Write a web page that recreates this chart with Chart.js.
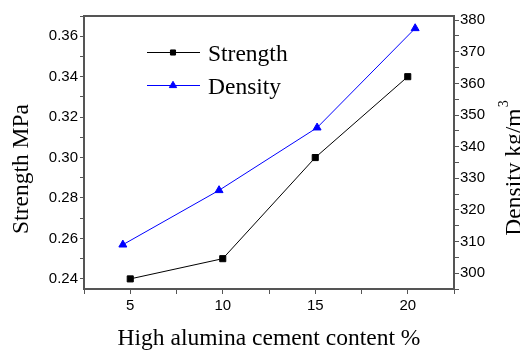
<!DOCTYPE html>
<html lang="en">
<head>
<meta charset="UTF-8">
<title>Strength and Density vs High alumina cement content</title>
<script src="https://cdn.jsdelivr.net/npm/chart.js"></script>
<style>
  body { margin: 0; background: #fff; overflow: hidden; }
  #wrap { width: 520px; height: 350px; }
</style>
</head>
<body>
<div id="wrap"><canvas id="chart" width="520" height="350"></canvas></div>
<script>
// values
const strengthX = [5, 10, 15, 20];
const strengthY = [0.24, 0.25, 0.30, 0.34];
const densityX = [4.6, 9.8, 15.1, 20.4];
const densityY = [309.0, 326.2, 346.0, 377.4];

const seriesNames = ['Strength', 'Density'];
const xTitle = 'High alumina cement content %';
const leftTitle = 'Strength MPa';
const rightTitle = 'Density kg/m';
const rightTitleSup = '3';

const serif = '"Liberation Serif", "Times New Roman", serif';
const sans = '"Liberation Sans", Arial, sans-serif';
const axisGray = '#555';

// titles, legend and top frame line
const overlay = {
    id: 'overlay',
    afterDraw(chart) {
        const ctx = chart.ctx;
        const area = chart.chartArea;
        ctx.save();

        // top border of the frame
        ctx.strokeStyle = axisGray;
        ctx.lineWidth = 2;
        ctx.beginPath();
        ctx.moveTo(area.left - 1, area.top);
        ctx.lineTo(area.right + 1, area.top);
        ctx.stroke();

        ctx.fillStyle = '#000';
        ctx.font = '23.5px ' + serif;
        ctx.textBaseline = 'alphabetic';

        // left axis title
        ctx.save();
        ctx.translate(28, 169);
        ctx.rotate(-Math.PI / 2);
        ctx.textAlign = 'center';
        ctx.fillText(leftTitle, 0, 0);
        ctx.restore();

        // right axis title with superscript
        ctx.save();
        ctx.translate(521, 168);
        ctx.rotate(-Math.PI / 2);
        ctx.textAlign = 'left';
        const wMain = ctx.measureText(rightTitle).width;
        ctx.font = '14px ' + serif;
        const wSup = ctx.measureText(rightTitleSup).width;
        const start = -(wMain + wSup + 1) / 2;
        ctx.font = '23.5px ' + serif;
        ctx.fillText(rightTitle, start, 0);
        ctx.font = '14px ' + serif;
        ctx.fillText(rightTitleSup, start + wMain + 1, -13);
        ctx.restore();

        // legend
        const rows = [52, 85];
        const radii = [3.6, 4.2];
        chart.data.datasets.forEach((ds, i) => {
            const y = rows[i] + 0.5;
            ctx.strokeStyle = ds.borderColor;
            ctx.fillStyle = ds.borderColor;
            ctx.lineWidth = 1;
            ctx.beginPath();
            ctx.moveTo(147, y);
            ctx.lineTo(200, y);
            ctx.stroke();
            Chart.helpers.drawPoint(ctx, {
                pointStyle: ds.pointStyle, radius: radii[i], borderWidth: 1, rotation: 0
            }, 173, y);
            ctx.fillStyle = '#000';
            ctx.font = '23.5px ' + serif;
            ctx.textAlign = 'left';
            ctx.fillText(ds.label, 208, rows[i] + 9);
        });

        ctx.restore();
    }
};

const tickFont = { family: sans, size: 15 };

new Chart(document.getElementById('chart'), {
    type: 'scatter',
    data: {
        datasets: [{
            label: seriesNames[0],
            data: strengthX.map((x, i) => ({ x: x, y: strengthY[i] })),
            yAxisID: 'y',
            showLine: true,
            borderColor: '#000000',
            backgroundColor: '#000000',
            borderWidth: 1,
            pointStyle: 'rect',
            pointRadius: 4.3,
            pointBorderWidth: 1
        }, {
            label: seriesNames[1],
            data: densityX.map((x, i) => ({ x: x, y: densityY[i] })),
            yAxisID: 'y2',
            showLine: true,
            borderColor: '#0000ff',
            backgroundColor: '#0000ff',
            borderWidth: 1,
            pointStyle: 'triangle',
            pointRadius: 4.6,
            pointBorderWidth: 1
        }]
    },
    options: {
        responsive: false,
        animation: false,
        layout: { padding: { top: 16, left: 0, right: 0, bottom: 0 } },
        plugins: {
            legend: { display: false },
            tooltip: { enabled: false }
        },
        scales: {
            x: {
                type: 'linear',
                position: 'bottom',
                min: 2.5,
                max: 22.5,
                afterFit: s => { s.height = 61; },
                ticks: {
                    stepSize: 2.5,
                    autoSkip: false,
                    maxRotation: 0,
                    padding: 2.5,
                    color: '#000',
                    font: tickFont,
                    callback: v => (v % 5 === 0 ? String(v) : '')
                },
                grid: { drawOnChartArea: false, tickLength: 5, tickColor: axisGray },
                border: { color: axisGray, width: 2 },
                title: {
                    display: true,
                    text: xTitle,
                    color: '#000',
                    font: { family: serif, size: 23.5 },
                    padding: { top: 0, bottom: -3 }
                }
            },
            y: {
                type: 'linear',
                position: 'left',
                min: 0.235,
                max: 0.37,
                afterFit: s => { s.width = 84; },
                ticks: {
                    stepSize: 0.01,
                    includeBounds: false,
                    autoSkip: false,
                    padding: 2,
                    color: '#000',
                    font: tickFont,
                    callback: v => (Math.round(v * 100) % 2 === 0 ? v.toFixed(2) : '')
                },
                grid: { drawOnChartArea: false, tickLength: 4, tickColor: axisGray },
                border: { color: axisGray, width: 2 }
            },
            y2: {
                type: 'linear',
                position: 'right',
                min: 295,
                max: 381.3,
                afterFit: s => { s.width = 66; },
                ticks: {
                    stepSize: 5,
                    includeBounds: false,
                    autoSkip: false,
                    padding: 1,
                    color: '#000',
                    font: tickFont,
                    callback: v => (Math.round(v) % 10 === 0 ? String(Math.round(v)) : '')
                },
                grid: { drawOnChartArea: false, tickLength: 5, tickColor: axisGray },
                border: { color: axisGray, width: 2 }
            }
        }
    },
    plugins: [overlay]
});
</script>
</body>
</html>
